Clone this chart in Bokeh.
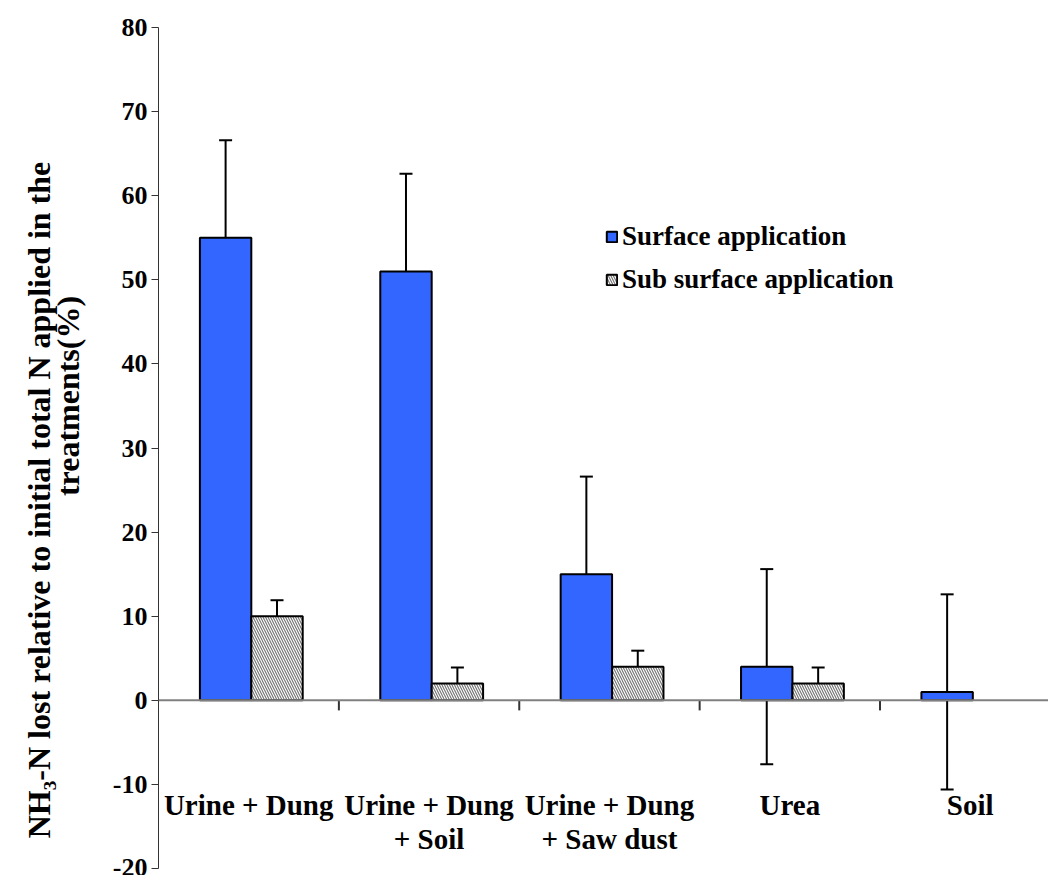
from bokeh.plotting import figure
from bokeh.models import (ColumnDataSource, Range1d, FixedTicker, Span, Whisker,
                          TeeHead, Legend, LegendItem)
from bokeh.core.properties import value
from bokeh.embed import file_html
from bokeh.resources import INLINE

# ---- data ----
categories = ["Urine + Dung", "Urine + Dung\n+ Soil", "Urine + Dung\n+ Saw dust", "Urea", "Soil"]
surface = [55, 51, 15, 4, 1]
surface_err = [11.6, 11.6, 11.6, 11.6, 11.6]
subsurface = [10, 2, 4, 2, None]
subsurface_err = [1.9, 1.9, 1.9, 1.9, None]
y_ticks = [-20, -10, 0, 10, 20, 30, 40, 50, 60, 70, 80]
y_tick_labels = ["-20", "-10", "0", "10", "20", "30", "40", "50", "60", "70", "80"]
series_names = ["Surface application", "Sub surface application"]
y_title_line1 = "NH\u2083-N lost relative to initial total N applied in the"
y_title_line2 = "treatments(%)"

FONT = "Liberation Serif"
NB = "\u00a0"
# the two title lines are offset along the axis, as in the original
y_title = y_title_line1 + NB * 13 + "\n" + NB * 13 + y_title_line2

centers = [i + 0.5 for i in range(len(categories))]
xs_surf = [c - 0.128 for c in centers]
idx_sub = [i for i, v in enumerate(subsurface) if v is not None]
xs_sub = [centers[i] + 0.157 for i in idx_sub]
sub_vals = [subsurface[i] for i in idx_sub]
sub_errs = [subsurface_err[i] for i in idx_sub]

src_surf = ColumnDataSource(dict(x=xs_surf, top=surface,
                                 upper=[v + e for v, e in zip(surface, surface_err)],
                                 lower=[v - e for v, e in zip(surface, surface_err)]))
src_sub = ColumnDataSource(dict(x=xs_sub, top=sub_vals,
                                upper=[v + e for v, e in zip(sub_vals, sub_errs)],
                                lower=[v - e for v, e in zip(sub_vals, sub_errs)]))

p = figure(width=1048, height=875, output_backend="svg", toolbar_location=None,
           x_range=Range1d(0, 4.934), y_range=Range1d(-20, 80),
           min_border_left=158, min_border_top=27, min_border_bottom=7, min_border_right=0)
p.outline_line_color = None
p.grid.visible = False
p.xaxis.visible = False
p.background_fill_color = "white"

yax = p.yaxis[0]
yax.ticker = FixedTicker(ticks=y_ticks)
yax.major_label_overrides = {t: s for t, s in zip(y_ticks, y_tick_labels)}
yax.major_label_text_font = FONT
yax.major_label_text_font_style = "bold"
yax.major_label_text_font_size = "26px"
yax.major_label_text_color = "black"
yax.major_tick_out = 7
yax.major_tick_in = 0
yax.minor_tick_out = 0
yax.minor_tick_in = 0
yax.major_label_standoff = 4
yax.axis_line_color = "#333333"
yax.major_tick_line_color = "#333333"
yax.axis_label = y_title
yax.axis_label_text_font = FONT
yax.axis_label_text_font_style = "bold"
yax.axis_label_text_font_size = "32px"
yax.axis_label_text_color = "black"
yax.axis_label_text_line_height = 0.8
yax.axis_label_standoff = 24

# zero line
p.add_layout(Span(location=0, dimension="width", line_color="#808080", line_width=2))

# category boundary ticks on zero line
bx = [float(i) for i in range(1, len(categories))]
p.segment(x0=bx, y0=[0] * len(bx), x1=bx, y1=[-1.2] * len(bx), line_color="#333333", line_width=2)

# bars
r_surf = p.vbar(x="x", top="top", bottom=0, width=0.285, source=src_surf,
                fill_color="#3366FF", line_color="black", line_width=2)
r_sub = p.vbar(x="x", top="top", bottom=0, width=0.285, source=src_sub,
               fill_color="white", line_color="black", line_width=2,
               hatch_pattern="left_diagonal_line", hatch_color="#777777",
               hatch_scale=5, hatch_weight=1.2)

# error bars
for src in (src_surf, src_sub):
    w = Whisker(base="x", upper="upper", lower="lower", source=src,
                line_color="black", line_width=2,
                upper_head=TeeHead(size=13, line_color="black", line_width=2),
                lower_head=TeeHead(size=13, line_color="black", line_width=2))
    p.add_layout(w)

# category labels
p.text(x=centers, y=[-10.6] * len(centers), text=categories,
       text_font=value(FONT), text_font_style="bold", text_font_size="29px",
       text_align="center", text_baseline="top", text_line_height=1.05, text_color="black")

# legend
legend = Legend(items=[LegendItem(label=series_names[0], renderers=[r_surf]),
                       LegendItem(label=series_names[1], renderers=[r_sub])],
                location=(447, 573), orientation="vertical",
                label_text_font=FONT, label_text_font_style="bold", label_text_font_size="27px",
                label_text_color="black",
                glyph_width=13, glyph_height=13, label_standoff=4, spacing=12,
                padding=0, margin=0, border_line_alpha=0, background_fill_alpha=0)
p.add_layout(legend)

open("out.html", "w").write(file_html(p, INLINE))
